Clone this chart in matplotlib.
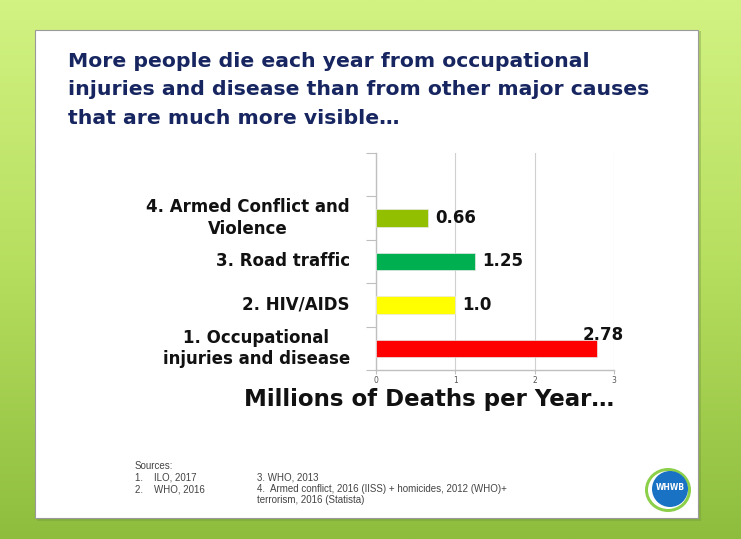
import matplotlib
matplotlib.use("Agg")
import matplotlib.pyplot as plt
import numpy as np
from matplotlib.patches import Rectangle, Ellipse

plt.rcParams['font.family'] = ['DejaVu Sans']

# data
categories = ["1. Occupational\ninjuries and disease", "2. HIV/AIDS",
              "3. Road traffic", "4. Armed Conflict and\nViolence"]
deaths = [2.78, 1.0, 1.25, 0.66]
value_labels = ["2.78", "1.0", "1.25", "0.66"]
bar_colors = ["#ff0000", "#ffff00", "#00b050", "#92c000"]
xticks = [0, 1, 2, 3]

title = ("More people die each year from occupational\n"
         "injuries and disease than from other major causes\n"
         "that are much more visible\u2026")
xlabel = "Millions of Deaths per Year\u2026"
sources_left = "Sources:\n1.    ILO, 2017\n2.    WHO, 2016"
sources_right = ("3. WHO, 2013\n"
                 "4.  Armed conflict, 2016 (IISS) + homicides, 2012 (WHO)+\n"
                 "terrorism, 2016 (Statista)")

fig = plt.figure(figsize=(7.41, 5.39), dpi=100)

# green background
bg = fig.add_axes([0, 0, 1, 1])
grad = np.linspace(0, 1, 256).reshape(-1, 1)
cmap = matplotlib.colors.LinearSegmentedColormap.from_list(
    "g", ["#d2f282", "#b6de5e", "#8ebd3e"])
bg.imshow(grad, aspect="auto", cmap=cmap, extent=[0, 1, 0, 1])
bg.set_xlim(0, 1)
bg.set_ylim(0, 1)
bg.axis("off")

# white slide panel with shadow
bg.add_patch(Rectangle((37 / 741, 18 / 539), 664 / 741, 490 / 539,
                       facecolor="#6f8f3a", alpha=0.35, edgecolor="none"))
bg.add_patch(Rectangle((35 / 741, 21 / 539), 663 / 741, 488 / 539,
                       facecolor="white", edgecolor="#9a9a9a", linewidth=0.8))

# title
fig.text(68 / 741, 1 - 52 / 539, title, color="#172660", fontsize=14.7,
         fontweight="bold", va="top", ha="left", linespacing=1.62)

# chart
ax = fig.add_axes([376 / 741, 169 / 539, 238 / 741, 217 / 539])
ypos = np.arange(len(categories))
ax.barh(ypos, deaths, height=0.4, color=bar_colors, edgecolor="#e8e8e8",
        linewidth=0.5, zorder=3)
ax.set_xlim(0, 3)
ax.set_ylim(-0.5, 4.5)
ax.set_xticks(xticks)
ax.set_xticklabels([str(t) for t in xticks])
ax.tick_params(axis="x", labelsize=5.5, labelcolor="#555555", length=3,
               color="#bfbfbf", pad=1)
ax.set_yticks(np.arange(-0.5, 5, 1))
ax.set_yticklabels([])
ax.tick_params(axis="y", length=7, color="#bfbfbf")
ax.grid(axis="x", color="#d0d0d0", linewidth=0.8, zorder=0)
for s in ["top", "right"]:
    ax.spines[s].set_visible(False)
for s in ["left", "bottom"]:
    ax.spines[s].set_color("#bfbfbf")
    ax.spines[s].set_linewidth(1.0)

for y, label in zip(ypos, categories):
    ax.text(-0.11, y, label, transform=ax.get_yaxis_transform(),
            ha="right", va="center", multialignment="center",
            fontsize=12, fontweight="bold", color="#111111",
            linespacing=1.25)

for y, v, t in zip(ypos, deaths, value_labels):
    if v > 2.5:
        ax.text(v - 0.17, y + 0.3, t, ha="left", va="center", fontsize=12,
                fontweight="bold", color="#111111", zorder=4)
    else:
        ax.text(v + 0.09, y, t, ha="left", va="center", fontsize=12,
                fontweight="bold", color="#111111")

ax.set_xlabel(xlabel, fontsize=16.5, fontweight="bold", color="#111111")
ax.xaxis.label.set_ha("right")
ax.xaxis.label.set_va("top")
ax.xaxis.set_label_coords(1.0, -0.085)

# sources
fig.text(135 / 741, 1 - 461 / 539, sources_left, fontsize=7,
         color="#444444", va="top", ha="left", linespacing=1.2,
         family=["Liberation Sans", "DejaVu Sans"])
fig.text(257 / 741, 1 - 472 / 539, sources_right, fontsize=7,
         color="#444444", va="top", ha="left", linespacing=1.2,
         family=["Liberation Sans", "DejaVu Sans"])

# logo
lx, ly = 670 / 741, 1 - 489 / 539
bg.add_artist(Ellipse((lx - 2 / 741, ly - 1 / 539), 46 / 741, 44 / 539,
                      facecolor="#8cd04a", edgecolor="none", zorder=5))
bg.add_artist(Ellipse((lx - 2 / 741, ly - 1 / 539), 40 / 741, 38 / 539,
                      facecolor="white", edgecolor="none", zorder=5))
bg.add_artist(Ellipse((lx, ly), 36 / 741, 36 / 539, facecolor="#1a72c4",
                      edgecolor="none", zorder=6))
bg.text(lx, ly + 2 / 539, "WHWB", ha="center", va="center", fontsize=5.5,
        fontweight="bold", color="white", zorder=7)

fig.savefig("out.png", dpi=100)
